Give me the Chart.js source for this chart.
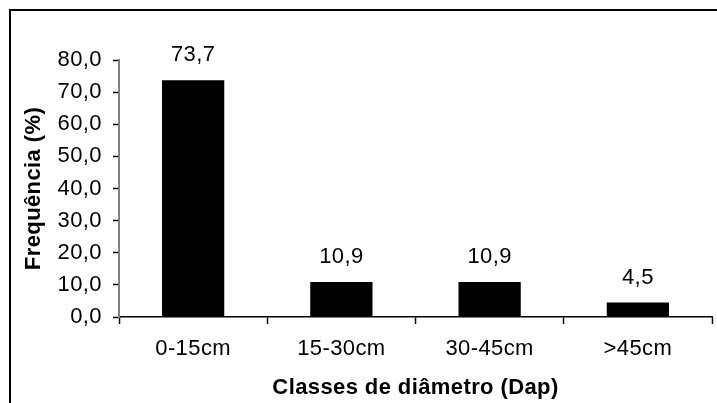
<!DOCTYPE html>
<html>
<head>
<meta charset="utf-8">
<script src="https://cdn.jsdelivr.net/npm/chart.js@4.4.1/dist/chart.umd.min.js"></script>
<style>
  html, body { margin: 0; padding: 0; background: #ffffff; }
  #wrap { width: 717px; height: 403px; position: relative; }
</style>
</head>
<body>
<div id="wrap"><canvas id="c" width="717" height="403"></canvas></div>
<script>
// Diameter classes and the share of trees in each (%)
const categories = ['0-15cm', '15-30cm', '30-45cm', '>45cm'];
const frequencies = [73.7, 10.9, 10.9, 4.5];
const yTickLabels = ['0,0', '10,0', '20,0', '30,0', '40,0', '50,0', '60,0', '70,0', '80,0'];

const FONT = '"Liberation Sans", Arial, Helvetica, sans-serif';
const SIZE = 22;

const fmt = v => v.toFixed(1).replace('.', ',');

// Slightly open letter spacing for all canvas text
const spacing = {
  id: 'spacing',
  beforeUpdate(chart) { chart.ctx.letterSpacing = '0.4px'; },
  beforeDraw(chart) { chart.ctx.letterSpacing = '0.4px'; }
};

// Value printed above each bar
const valueLabels = {
  id: 'valueLabels',
  afterDatasetsDraw(chart) {
    const ctx = chart.ctx;
    const meta = chart.getDatasetMeta(0);
    ctx.save();
    ctx.font = SIZE + 'px ' + FONT;
    ctx.fillStyle = '#000000';
    ctx.textAlign = 'center';
    ctx.textBaseline = 'alphabetic';
    meta.data.forEach((bar, i) => {
      ctx.fillText(fmt(frequencies[i]), bar.x, bar.y - 19);
    });
    ctx.restore();
  }
};

// Outer frame around the figure
const frame = {
  id: 'frame',
  afterDraw(chart) {
    const ctx = chart.ctx;
    ctx.save();
    ctx.strokeStyle = '#000000';
    ctx.lineWidth = 2;
    ctx.strokeRect(10, 10, chart.width + 20, chart.height + 20);
    ctx.restore();
  }
};

new Chart(document.getElementById('c'), {
  type: 'bar',
  data: {
    labels: categories,
    datasets: [{
      data: frequencies,
      backgroundColor: '#000000',
      borderWidth: 0,
      categoryPercentage: 1.0,
      barPercentage: 0.42
    }]
  },
  options: {
    responsive: false,
    devicePixelRatio: 1,
    animation: false,
    layout: { padding: { top: 60, right: 5, left: 0, bottom: 0 } },
    plugins: {
      legend: { display: false },
      tooltip: { enabled: false }
    },
    scales: {
      x: {
        offset: true,
        grid: {
          offset: true,
          drawOnChartArea: false,
          drawTicks: true,
          tickLength: 7,
          tickColor: '#000000',
          tickWidth: 1.5
        },
        border: { display: true, color: '#000000', width: 1.5 },
        ticks: {
          color: '#000000',
          font: { family: FONT, size: SIZE },
          padding: 12,
          maxRotation: 0,
          autoSkip: false
        },
        title: {
          display: true,
          text: 'Classes de diâmetro (Dap)',
          color: '#000000',
          font: { family: FONT, size: SIZE, weight: 'bold' },
          padding: { top: 0, bottom: 2 }
        },
        afterFit(scale) { scale.height = 86; }
      },
      y: {
        min: 0,
        max: 80,
        grid: {
          drawOnChartArea: false,
          drawTicks: true,
          tickLength: 6,
          tickColor: '#000000',
          tickWidth: 1.5
        },
        border: { display: true, color: '#808080', width: 2 },
        ticks: {
          stepSize: 10,
          color: '#000000',
          font: { family: FONT, size: SIZE },
          padding: 11,
          callback: (v, i) => yTickLabels[i]
        },
        title: {
          display: true,
          text: 'Frequência (%)',
          color: '#000000',
          font: { family: FONT, size: SIZE, weight: 'bold' },
          padding: { top: 21, bottom: 0 }
        },
        afterFit(scale) { scale.width = 119; }
      }
    }
  },
  plugins: [spacing, valueLabels, frame]
});
</script>
</body>
</html>
